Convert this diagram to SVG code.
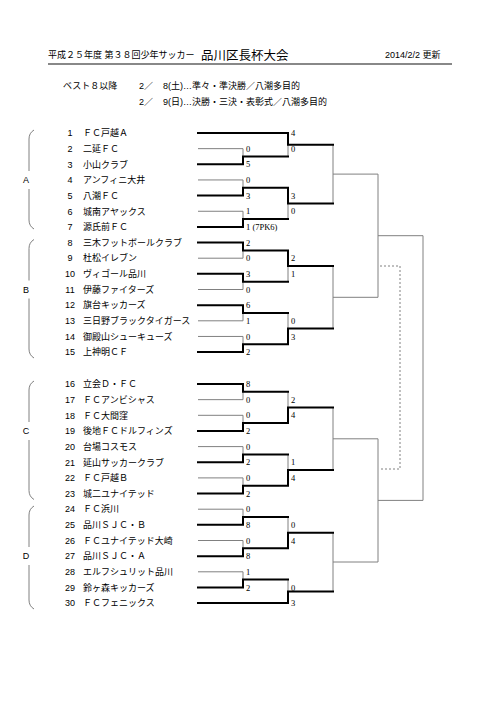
<svg xmlns="http://www.w3.org/2000/svg" width="500" height="707" viewBox="0 0 500 707">
<style>
.t{font-family:"Liberation Sans","Noto Sans CJK JP",sans-serif;font-size:9px;fill:#000}
.n{font-family:"Liberation Sans","Noto Sans CJK JP",sans-serif;font-size:9px;fill:#000;text-anchor:middle}
.h{font-family:"Liberation Sans","Noto Sans CJK JP",sans-serif;font-size:12.5px;fill:#000}
.s{font-family:"Liberation Serif","Noto Serif CJK JP",serif;font-size:8.5px;fill:#000}
.w{stroke:#000;stroke-width:2;fill:none;stroke-linecap:square}
.l{stroke:#808080;stroke-width:1;fill:none}
.d{stroke:#808080;stroke-width:1;stroke-dasharray:2 2;fill:none}
.b{stroke:#808080;stroke-width:1;fill:none}
</style>
<rect width="500" height="707" fill="#fff"/>
<g id="header">
<text class="t" x="48" y="58">平成２５年度 第３８回少年サッカー</text>
<text class="h" x="201" y="59.5">品川区長杯大会</text>
<text class="t" x="385" y="58">2014/2/2 更新</text>
<line x1="48" y1="64" x2="452" y2="64" stroke="#888" stroke-width="2"/>
<text class="t" x="63" y="89">ベスト８以降</text>
<text class="t" x="139" y="89">2／</text>
<text class="t" x="163" y="89">8(土)…準々・準決勝／八潮多目的</text>
<text class="t" x="139" y="105">2／</text>
<text class="t" x="163" y="105">9(日)…決勝・三決・表彰式／八潮多目的</text>
</g>
<g id="groups">
<path class="b" d="M34,130 Q29,133 29,139 V171 M29,189 V220 Q29,226 34,229"/>
<text class="n" x="26" y="183.2">A</text>
<path class="b" d="M34,239.5 Q29,242.5 29,248.5 V280.5 M29,298.5 V349 Q29,355 34,358"/>
<text class="n" x="26" y="292.7">B</text>
<path class="b" d="M34,381 Q29,384 29,390 V422 M29,440 V490.5 Q29,496.5 34,499.5"/>
<text class="n" x="26" y="434.2">C</text>
<path class="b" d="M34,506 Q29,509 29,515 V547 M29,565 V600 Q29,606 34,609"/>
<text class="n" x="26" y="559.4">D</text>
</g>
<g id="teams">
<g id="team1"><text class="n" x="70" y="136.2">1</text><text class="t" x="83" y="136.2">ＦＣ戸越Ａ</text></g>
<g id="team2"><text class="n" x="70" y="151.9">2</text><text class="t" x="83" y="151.9">二延ＦＣ</text></g>
<g id="team3"><text class="n" x="70" y="167.5">3</text><text class="t" x="83" y="167.5">小山クラブ</text></g>
<g id="team4"><text class="n" x="70" y="183.2">4</text><text class="t" x="83" y="183.2">アンフィニ大井</text></g>
<g id="team5"><text class="n" x="70" y="198.8">5</text><text class="t" x="83" y="198.8">八潮ＦＣ</text></g>
<g id="team6"><text class="n" x="70" y="214.5">6</text><text class="t" x="83" y="214.5">城南アヤックス</text></g>
<g id="team7"><text class="n" x="70" y="230.1">7</text><text class="t" x="83" y="230.1">源氏前ＦＣ</text></g>
<g id="team8"><text class="n" x="70" y="245.8">8</text><text class="t" x="83" y="245.8">三木フットボールクラブ</text></g>
<g id="team9"><text class="n" x="70" y="261.4">9</text><text class="t" x="83" y="261.4">杜松イレブン</text></g>
<g id="team10"><text class="n" x="70" y="277.1">10</text><text class="t" x="83" y="277.1">ヴィゴール品川</text></g>
<g id="team11"><text class="n" x="70" y="292.7">11</text><text class="t" x="83" y="292.7">伊藤ファイターズ</text></g>
<g id="team12"><text class="n" x="70" y="308.4">12</text><text class="t" x="83" y="308.4">旗台キッカーズ</text></g>
<g id="team13"><text class="n" x="70" y="324">13</text><text class="t" x="83" y="324">三日野ブラックタイガース</text></g>
<g id="team14"><text class="n" x="70" y="339.7">14</text><text class="t" x="83" y="339.7">御殿山シューキューズ</text></g>
<g id="team15"><text class="n" x="70" y="355.3">15</text><text class="t" x="83" y="355.3">上神明ＣＦ</text></g>
<g id="team16"><text class="n" x="70" y="387.2">16</text><text class="t" x="83" y="387.2">立会Ｄ・ＦＣ</text></g>
<g id="team17"><text class="n" x="70" y="402.9">17</text><text class="t" x="83" y="402.9">ＦＣアンビシャス</text></g>
<g id="team18"><text class="n" x="70" y="418.5">18</text><text class="t" x="83" y="418.5">ＦＣ大間窪</text></g>
<g id="team19"><text class="n" x="70" y="434.2">19</text><text class="t" x="83" y="434.2">後地ＦＣドルフィンズ</text></g>
<g id="team20"><text class="n" x="70" y="449.8">20</text><text class="t" x="83" y="449.8">台場コスモス</text></g>
<g id="team21"><text class="n" x="70" y="465.5">21</text><text class="t" x="83" y="465.5">延山サッカークラブ</text></g>
<g id="team22"><text class="n" x="70" y="481.1">22</text><text class="t" x="83" y="481.1">ＦＣ戸越Ｂ</text></g>
<g id="team23"><text class="n" x="70" y="496.8">23</text><text class="t" x="83" y="496.8">城二ユナイテッド</text></g>
<g id="team24"><text class="n" x="70" y="512.4">24</text><text class="t" x="83" y="512.4">ＦＣ浜川</text></g>
<g id="team25"><text class="n" x="70" y="528.1">25</text><text class="t" x="83" y="528.1">品川ＳＪＣ・Ｂ</text></g>
<g id="team26"><text class="n" x="70" y="543.7">26</text><text class="t" x="83" y="543.7">ＦＣユナイテッド大崎</text></g>
<g id="team27"><text class="n" x="70" y="559.4">27</text><text class="t" x="83" y="559.4">品川ＳＪＣ・Ａ</text></g>
<g id="team28"><text class="n" x="70" y="575">28</text><text class="t" x="83" y="575">エルフシュリット品川</text></g>
<g id="team29"><text class="n" x="70" y="590.7">29</text><text class="t" x="83" y="590.7">鈴ヶ森キッカーズ</text></g>
<g id="team30"><text class="n" x="70" y="606.3">30</text><text class="t" x="83" y="606.3">ＦＣフェニックス</text></g>
</g>
<g id="connectors">
<path class="l" d="M198,148.65 H243 V156.5 M198,179.95 H243 V187.8 M198,211.25 H243 V219.1 M198,258.2 H243 V250.4 M198,289.5 H243 V281.7 M198,320.8 H243 V313 M198,336.45 H243 V344.3"/>
<path class="l" d="M288,144.7 V156.5 M288,203.4 V219.1 M288,266 V281.7 M288,313 V328.6"/>
<path class="l" d="M333,144.7 V203.4 M333,174.1 H378 M333,266 V328.6 M333,297.3 H378 M378,174.1 V297.3 M378,235.7 H423"/>
<path class="l" d="M198,399.65 H243 V391.8 M198,415.3 H243 V423.1 M198,446.6 H243 V454.4 M198,477.9 H243 V485.7 M198,509.2 H243 V517 M198,540.5 H243 V548.3 M198,571.8 H243 V579.6"/>
<path class="l" d="M288,391.8 V407.5 M288,454.4 V470.1 M288,517 V532.7 M288,579.6 V591.4"/>
<path class="l" d="M333,407.5 V470.1 M333,438.8 H378 M333,532.7 V591.4 M333,562 H378 M378,438.8 V562 M378,500.4 H423 M423,235.7 V500.4"/>
<path class="d" d="M380,266 H400 V469 H380"/>
<path class="w" d="M198,133 H288 V144.7 H333"/>
<path class="w" d="M198,164.3 H243 V156.5 H288"/>
<path class="w" d="M198,195.6 H243 V187.8 H288 V203.4 H333"/>
<path class="w" d="M198,226.9 H243 V219.1 H288"/>
<path class="w" d="M198,242.55 H243 V250.4 H288 V266 H333"/>
<path class="w" d="M198,273.85 H243 V281.7 H288"/>
<path class="w" d="M198,305.15 H243 V313 H288"/>
<path class="w" d="M198,352.1 H243 V344.3 H288 V328.6 H333"/>
<path class="w" d="M198,384 H243 V391.8 H288"/>
<path class="w" d="M198,430.95 H243 V423.1 H288 V407.5 H333"/>
<path class="w" d="M198,462.25 H243 V454.4 H288"/>
<path class="w" d="M198,493.55 H243 V485.7 H288 V470.1 H333"/>
<path class="w" d="M198,524.85 H243 V517 H288"/>
<path class="w" d="M198,556.15 H243 V548.3 H288 V532.7 H333"/>
<path class="w" d="M198,587.45 H243 V579.6 H288"/>
<path class="w" d="M198,603.1 H288 V591.4 H333"/>
</g>
<g id="scores">
<text class="s" x="246" y="151.7">0</text>
<text class="s" x="246" y="167.3">5</text>
<text class="s" x="246" y="183">0</text>
<text class="s" x="246" y="198.6">3</text>
<text class="s" x="246" y="214.3">1</text>
<text class="s" x="246" y="229.9">1 (7PK6)</text>
<text class="s" x="246" y="245.6">2</text>
<text class="s" x="246" y="261.2">0</text>
<text class="s" x="246" y="276.9">3</text>
<text class="s" x="246" y="292.5">0</text>
<text class="s" x="246" y="308.2">6</text>
<text class="s" x="246" y="323.8">1</text>
<text class="s" x="246" y="339.5">0</text>
<text class="s" x="246" y="355.1">2</text>
<text class="s" x="246" y="387">8</text>
<text class="s" x="246" y="402.7">0</text>
<text class="s" x="246" y="418.3">0</text>
<text class="s" x="246" y="434">2</text>
<text class="s" x="246" y="449.6">0</text>
<text class="s" x="246" y="465.3">2</text>
<text class="s" x="246" y="480.9">0</text>
<text class="s" x="246" y="496.6">2</text>
<text class="s" x="246" y="512.2">0</text>
<text class="s" x="246" y="527.9">8</text>
<text class="s" x="246" y="543.5">0</text>
<text class="s" x="246" y="559.2">8</text>
<text class="s" x="246" y="574.8">1</text>
<text class="s" x="246" y="590.5">2</text>
<text class="s" x="291" y="136">4</text>
<text class="s" x="291" y="151.7">0</text>
<text class="s" x="291" y="198.6">3</text>
<text class="s" x="291" y="214.3">0</text>
<text class="s" x="291" y="261.2">2</text>
<text class="s" x="291" y="276.9">1</text>
<text class="s" x="291" y="323.8">0</text>
<text class="s" x="291" y="339.5">3</text>
<text class="s" x="291" y="402.7">2</text>
<text class="s" x="291" y="418.3">4</text>
<text class="s" x="291" y="465.3">1</text>
<text class="s" x="291" y="480.9">4</text>
<text class="s" x="291" y="527.9">0</text>
<text class="s" x="291" y="543.5">4</text>
<text class="s" x="291" y="590.5">0</text>
<text class="s" x="291" y="606.1">3</text>
</g>
</svg>
